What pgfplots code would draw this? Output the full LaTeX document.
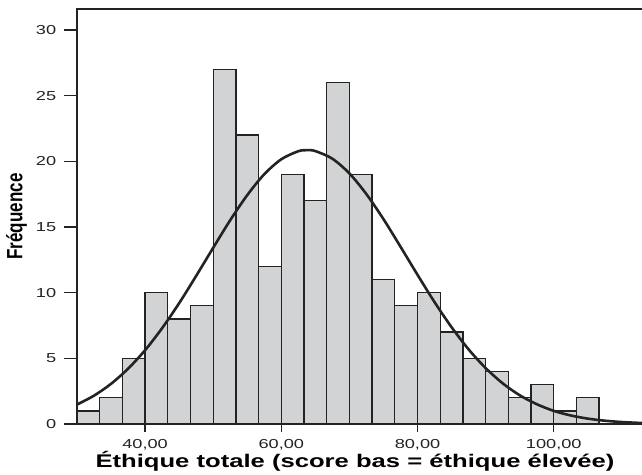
\documentclass[border=0pt]{standalone}
\usepackage{fontspec}
\setmainfont{Liberation Sans}[FakeStretch=1.4]
\newfontfamily\ylabfont{Liberation Sans}
\usepackage{pgfplots}
\pgfplotsset{compat=1.18}
\definecolor{barfill}{RGB}{210,211,213}
\definecolor{dk}{RGB}{35,35,35}
\begin{document}
\begin{tikzpicture}
\begin{axis}[
  scale only axis,
  width=585.7bp, height=415bp,
  xmin=30, xmax=116, ymin=0, ymax=31.6,
  axis line style={draw=dk, line width=1.8bp},
  tick align=outside,
  xtick pos=lower, ytick pos=left,
  xtick={40,60,80,100},
  xticklabels={{40,00},{60,00},{80,00},{100,00}},
  ytick={0,5,10,15,20,25,30},
  xtick style={draw=dk, line width=1.4bp, /pgfplots/major tick length=8bp},
  ytick style={draw=dk, line width=1.4bp, /pgfplots/major tick length=13bp},
  /pgf/number format/assume math mode=true,
  tick label style={font=\fontsize{13bp}{15bp}\selectfont, text=dk},
  xticklabel style={yshift=-8bp},
  yticklabel style={xshift=-13bp},
  xlabel={Éthique totale (score bas = éthique élevée)},
  xlabel style={font=\fontsize{18.3bp}{20bp}\selectfont\bfseries, at={(axis description cs:0.4747,0)}, anchor=north, yshift=-27bp, inner sep=0pt},
  ylabel={\scalebox{1}[1.3]{\ylabfont\fontsize{17bp}{19bp}\selectfont\bfseries Fréquence}},
  ylabel style={at={(axis description cs:-0.1033,0.5)}, anchor=center, inner sep=0pt},
]
\addplot[ybar interval, fill=barfill, draw=dk, line width=1.3bp] coordinates {
(30,1) (33.333,2) (36.667,5) (40,10) (43.333,8) (46.667,9)
(50,27) (53.333,22) (56.667,12) (60,19) (63.333,17) (66.667,26)
(70,19) (73.333,11) (76.667,9) (80,10) (83.333,7) (86.667,5)
(90,4) (93.333,2) (96.667,3) (100,1) (103.333,2) (106.667,0)
};
\addplot[draw=dk, line width=2.6bp, smooth] coordinates {
(30,1.48) (32.5,2.16) (35,3.06) (37.5,4.21) (40,5.62) (42.5,7.30)
(45,9.20) (47.5,11.28) (50,13.42) (52.5,15.52) (55,17.43) (57.5,19.02)
(60,20.16) (62.5,20.77) (63.8,20.85) (65,20.78) (67.5,20.20) (70,19.08)
(72.5,17.50) (75,15.60) (77.5,13.50) (80,11.36) (82.5,9.28) (85,7.37)
(87.5,5.68) (90,4.26) (92.5,3.10) (95,2.19) (97.5,1.51) (100,1.00)
(102.5,0.65) (105,0.41) (107.5,0.25) (110,0.15) (112.5,0.086) (115,0.048) (116,0.038)
};
\end{axis}
\pgfresetboundingbox
\path (-77bp,-51bp) rectangle (565bp,424bp);
\end{tikzpicture}
\end{document}
